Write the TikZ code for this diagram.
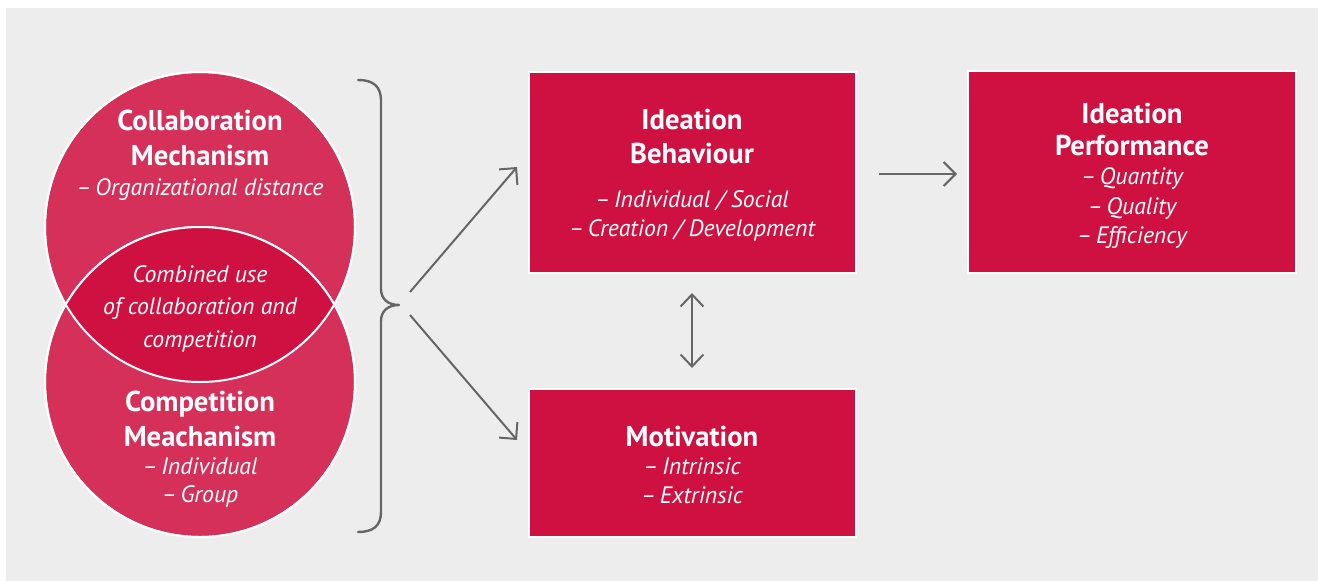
\documentclass[tikz,border=0pt]{standalone}
\usepackage{fontspec}
\setmainfont{PT Sans}
\usetikzlibrary{arrows.meta}
\definecolor{bg}{HTML}{EDEDED}
\definecolor{crimson}{HTML}{CE1141}
\definecolor{rosered}{HTML}{D4305A}
\definecolor{arrowgray}{HTML}{666666}
\tikzset{
  hd/.style={text=white, font=\bfseries\fontsize{21.5}{23}\selectfont, anchor=base, inner sep=0pt},
  it/.style={text=white, font=\itshape\fontsize{17.8}{19}\selectfont, anchor=base, inner sep=0pt},
  box/.style={rectangle, fill=crimson, draw=white, line width=1.5pt, inner sep=0pt},
  disc/.style={circle, fill=rosered, draw=white, line width=1.5pt, inner sep=0pt, minimum size=232.5pt},
  link/.style={draw=arrowgray, line width=1.5pt, -{Straight Barb[length=9pt,width=18pt,line width=1.5pt]}},
  twoway/.style={draw=arrowgray, line width=1.5pt, {Straight Barb[length=9pt,width=17pt,line width=1.5pt]}-{Straight Barb[length=9pt,width=17pt,line width=1.5pt]}},
  bracket/.style={draw=arrowgray, line width=1.8pt, line cap=round, line join=round},
}
\begin{document}
\begin{tikzpicture}[x=0.75pt, y=-0.75pt]
  \useasboundingbox (0,0) rectangle (1319,581);
  \fill[bg] (6,8) rectangle (1318,581);

  % overlapping mechanism circles
  \node[disc] (collab) at (200,227) {};
  \node[disc] (compet) at (200,382) {};
  \begin{scope}
    \clip (200,227) circle (155);
    \fill[crimson] (200,382) circle (155);
  \end{scope}
  \draw[white, line width=1.5pt] (collab) circle (155);
  \draw[white, line width=1.5pt] (compet) circle (155);

  \node[hd] (c1) at (200,131) {Collaboration};
  \node[hd] (c2) at (200,166) {Mechanism};
  \node[it] (c3) at (200,195) {–\,Organizational distance};

  \node[it] (l1) at (200,282) {Combined use};
  \node[it] (l2) at (200,314) {of collaboration and};
  \node[it] (l3) at (200,347) {competition};

  \node[hd] (m1) at (200,411) {Competition};
  \node[hd] (m2) at (200,446) {Meachanism};
  \node[it] (m3) at (200,474) {–\,Individual};
  \node[it] (m4) at (200,502) {–\,Group};

  % curly bracket gathering both mechanisms
  \draw[bracket] (358,80) .. controls (373,80) and (381,86) .. (381,101)
    -- (381,289) .. controls (381,299) and (388,305) .. (399,305)
    .. controls (388,305) and (381,311) .. (381,321)
    -- (381,512) .. controls (381,526) and (373,532) .. (358,532);
  \coordinate (tip) at (399,305);

  % outcome boxes
  \node[box, minimum width=245.25pt, minimum height=150.75pt] (behav) at (692.5,172.5) {};
  \node[box, minimum width=245.25pt, minimum height=111pt] (motiv) at (692.5,463) {};
  \node[box, minimum width=246pt, minimum height=151.5pt] (perf) at (1132,172) {};

  \node[hd] (b1) at (692,130) {Ideation};
  \node[hd] (b2) at (692,163) {Behaviour};
  \node[it] (b3) at (692,207) {–\,Individual / Social};
  \node[it] (b4) at (692,236) {–\,Creation / Development};

  \node[hd] (v1) at (692,446) {Motivation};
  \node[it] (v2) at (692,474) {–\,Intrinsic};
  \node[it] (v3) at (692,503) {–\,Extrinsic};

  \node[hd] (p1) at (1132,123) {Ideation};
  \node[hd] (p2) at (1132,156) {Performance};
  \node[it] (p3) at (1132,185) {–\,Quantity};
  \node[it] (p4) at (1132,214) {–\,Quality};
  \node[it] (p5) at (1132,243) {–\,Efficiency};

  % connectors
  \coordinate (ua) at (410,292);
  \coordinate (ub) at (517,167);
  \coordinate (da) at (410,315);
  \coordinate (db) at (517,440);
  \coordinate (va) at (692,293);
  \coordinate (vb) at (692,368);
  \coordinate (ra) at (879,174);
  \coordinate (rb) at (957,174);
  \draw[link] (ua) -- (ub);
  \draw[link] (da) -- (db);
  \draw[link] (ra) -- (rb);
  \draw[twoway] (va) -- (vb);
\end{tikzpicture}
\end{document}
